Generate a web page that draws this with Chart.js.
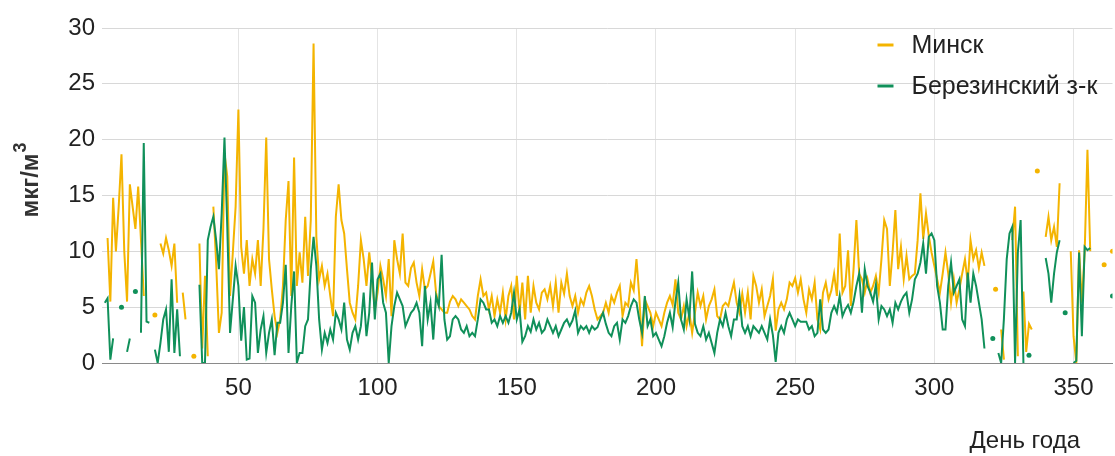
<!DOCTYPE html>
<html lang="ru">
<head>
<meta charset="utf-8">
<title>Минск / Березинский з-к</title>
<script src="https://cdn.jsdelivr.net/npm/chart.js@4.4.1/dist/chart.umd.min.js"></script>
<style>
  html, body { margin: 0; padding: 0; background: #fff; }
  #wrap { width: 1115px; height: 456px; position: relative; }
</style>
</head>
<body>
<div id="wrap"><canvas id="pmChart"></canvas></div>
<script>
// series names, axis titles, tick values
const seriesNames = ['Минск', 'Березинский з-к'];
const yTitle = 'мкг/м';
const yTitleSup = '3';
const xTitle = 'День года';
const xTicks = [50, 100, 150, 200, 250, 300, 350];
const yTicks = [0, 5, 10, 15, 20, 25, 30];

// daily values, day 1..364 (null = no data)
const minsk = [
  null, null, 11.2, 5.5, 14.8, 10, 14, 18.7, 10, 5.5,
  16, 14, 12, 15.8, 11, 6, null, null, null, 4.3,
  null, 10.7, 9.8, 11.2, 10.1, 8.7, 10.7, 5.4, null, 6.3,
  3.9, null, null, 0.6, null, 10.7, 1.3, 7.8, 0.6, null,
  14, 9, 2.7, 4.5, 18.8, 16.7, 6, 9.9, 14, 22.7,
  10.4, 8, 11, 6.9, 9.3, 8, 11, 6.9, 12, 20.2,
  9.3, 6.6, 4.2, 2.7, 3.9, 6.9, 12.8, 16.3, 6, 18.4,
  6.9, 9.9, 7.2, 13.1, 7.8, 12.8, 28.6, 11.3, 7.5, 8.7,
  6.9, 8, 6, 4.2, 13.1, 16, 12.8, 11.6, 8.4, 5.4,
  4.5, 3.9, 6.9, 11, 9.3, 6.9, 9.9, 7.5, 4.8, 6.3,
  8.7, 7.5, 6, 9.3, 4.2, 11, 9.3, 8, 11.6, 7.2,
  6.9, 8.5, 9, 7.2, 6, 8.4, 6.6, 6.9, 8, 9.1,
  6.3, 5.1, 4.8, 4.5, 4.5, 5.5, 6, 5.7, 5.1, 5.7,
  5.4, 5.1, 4.8, 4.2, 3.9, 6, 7.5, 6, 6.3, 4.8,
  6, 4.2, 5.7, 4.5, 6.3, 3.9, 6, 6.9, 3.9, 7.8,
  4.5, 7.2, 3.9, 7.8, 4.5, 6.9, 5.4, 4.8, 6.3, 6.6,
  5.7, 6.9, 5.1, 7.2, 4.5, 7.2, 6.2, 8, 6, 5.1,
  6, 4.5, 5.7, 5.2, 6.3, 6.9, 6, 4.8, 3.9, 4.2,
  4.5, 5.4, 4.5, 6, 5.4, 6.3, 6.9, 4.2, 5.4, 5.1,
  7.2, 6.5, 9.3, 6, 1.5, 5.7, 5.1, 4.5, 3.3, 4.5,
  3.9, 3.3, 4.5, 5.4, 6, 5.2, 7.5, 4.5, 3.9, 5.1,
  3.3, 4.5, 2.7, 4.5, 6.3, 5.1, 6, 3.9, 5.1, 5.7,
  6.6, 4.2, 3.9, 5.1, 5.4, 5.1, 6.2, 7.2, 5.4, 4.5,
  6.2, 4.5, 6.3, 3.9, 7.8, 6.9, 5.4, 6.6, 4.2, 5.1,
  6, 7.5, 2.9, 4.8, 5.4, 4.8, 5.7, 7.2, 6.9, 7.6,
  6.3, 7.5, 5.7, 4.5, 6.6, 5.7, 7.2, 3.9, 3, 6.3,
  7.2, 5.7, 6.5, 8, 6, 11.6, 6.3, 6.9, 10.1, 5.1,
  8.5, 12.8, 8, 7.5, 6.3, 7.5, 6.3, 6.9, 7.8, 6.3,
  9.3, 12.8, 12, 6.9, 9.9, 13.7, 8.4, 10.4, 7.5, 9.6,
  7.5, 7.8, 8, 11, 15.2, 11.1, 13.4, 11.4, 9.9, 8.7,
  7.5, 6.3, 8, 9.9, 8, 5.4, 7.5, 5.4, 6.6, 8,
  9.3, 7.2, 11, 9.3, 10.1, 8.5, 9.9, 8.7, null, null,
  null, 6.6, null, 3, 0.3, null, null, 11, 14, 0.6,
  null, 6.4, 1, 3.5, 3, null, 17.2, null, null, 11.3,
  13.1, 11, 12.2, 10.4, 16.1, null, null, null, 10, 2.4,
  0, 10.1, 5.4, 9.9, 19.1, 10, null, null, null, null,
  8.8, null, null, 10
];

const berezina = [
  null, 5.4, 5.8, 0.3, 2.2, null, null, 5, null, 1,
  2.2, null, 6.4, null, 2.7, 19.7, 3.7, 3.6, null, 1.2,
  0, 1.8, 3.9, 4.8, 1, 7.5, 0.9, 4.8, 0.6, null,
  null, null, null, null, null, 7, 0, 0, 11, 12.2,
  13.1, 11, 8.4, 13.4, 20.2, 12.2, 2.7, 5.7, 8.7, 6.9,
  2, 5, 0.3, 0.4, 6, 5.4, 0.9, 3, 4.2, 0.9,
  2.7, 3.9, 0.7, 3.6, 3.6, 5.4, 8.8, 0.9, 5.1, 8.2,
  0, 0.9, 0.9, 3.3, 3.9, 8.4, 11.3, 8.7, 3.9, 1.2,
  2.7, 1.8, 3, 2.1, 4.5, 3.9, 3, 5.4, 2.1, 1.2,
  2.7, 3.3, 2.1, 3.3, 6.3, 2.4, 4.5, 9, 3.9, 7.5,
  8, 5.4, 4.5, 0, 3.3, 5.1, 6.3, 5.7, 5.1, 3.3,
  3.9, 4.5, 4.8, 5.4, 4.5, 1.5, 6.9, 3.9, 5.4, 2.1,
  6, 5.1, 9.7, 3.9, 2.1, 2.4, 3.9, 4.2, 3.9, 3,
  2.7, 3.3, 2.4, 2.7, 2.4, 3.9, 5.7, 5.4, 4.8, 4.8,
  3.6, 3.9, 3.3, 4.2, 3.6, 4.2, 3.6, 4.5, 6.3, 3.9,
  4.8, 1.9, 2.4, 3.3, 2.8, 3.9, 3, 3.6, 2.7, 3,
  3.9, 3.3, 2.7, 3.3, 2.4, 3, 3.6, 3.9, 3.3, 3.8,
  4.7, 2.7, 3.3, 3, 3.3, 2.7, 3.3, 3, 3.2, 3.9,
  4.5, 3.5, 2.7, 2.4, 3.3, 3.6, 2.1, 3.9, 3.6, 4.2,
  5.1, 5.7, 5.4, 3.9, 2.7, 6, 3.3, 3.9, 2.4, 2.7,
  2.1, 1.5, 2.4, 3.6, 4.5, 3.2, 5.5, 7.2, 3.9, 3,
  5.7, 4, 8.2, 3.5, 2.7, 2.4, 3.3, 2.1, 2.7, 1.8,
  0.9, 2.7, 3.9, 3.3, 4.5, 3.3, 2.4, 3.9, 3.9, 6,
  3.3, 2.7, 3.3, 2.4, 3.3, 3, 2.7, 3.3, 2.7, 2.1,
  3.9, 2.5, 0.1, 2.7, 3.3, 2.7, 3.9, 4.5, 3.9, 3.3,
  3.9, 3.7, 3.7, 3.7, 3, 3.3, 2.4, 2.7, 5.7, 3,
  2.7, 3, 4.5, 5.1, 4.5, 6, 4.2, 4.8, 5.2, 4.5,
  5.5, 6.9, 8, 4.5, 8.4, 6.9, 6.3, 5.5, 7, 3.9,
  5.1, 4.8, 4.2, 4.8, 3.6, 5.4, 4.8, 5.5, 6, 6.3,
  4.5, 5.7, 7.5, 8, 9, 10.7, 8, 11.3, 11.6, 11,
  6.9, 5.4, 3, 3, 6.9, 9, 6.3, 6.9, 7.5, 3.9,
  3.3, 8.1, 5.4, 8, 6.9, 5.4, 3.9, 1.3, null, null,
  2.2, null, 0.9, 0, 4, 9.3, 11.6, 12.2, 0, 9.9,
  12.8, 0, null, 0.7, null, null, null, null, null, 9.4,
  8, 5.4, 8, 9.9, 11, null, 4.5, null, null, 0,
  0.2, 9.9, 2.4, 10.4, 10.1, 10.3, null, null, null, null,
  null, null, null, 6
];

const days = minsk.map((v, i) => i + 1);

const minskColor = '#f4b400';
const berezinaColor = '#10905a';
const textColor = '#222';
const fontFamily = '"Liberation Sans", Arial, sans-serif';

// a point with no neighbours is drawn as a dot, like in the original
function loneRadius(ctx) {
  const arr = ctx.dataset.data;
  const i = ctx.dataIndex;
  const prev = i > 0 ? arr[i - 1].y : null;
  const next = i < arr.length - 1 ? arr[i + 1].y : null;
  return (prev == null && next == null) ? 2.5 : 0;
}

// legend inside the plot + axis titles
const labelsPlugin = {
  id: 'labels',
  afterDraw(chart) {
    const ctx = chart.ctx;
    const area = chart.chartArea;
    ctx.save();

    ctx.font = '25px ' + fontFamily;
    ctx.textBaseline = 'middle';
    ctx.textAlign = 'left';
    const rows = [[seriesNames[0], minskColor, area.top + 17], [seriesNames[1], berezinaColor, area.top + 58]];
    rows.forEach(function(r) {
      ctx.strokeStyle = r[1];
      ctx.lineWidth = 3;
      ctx.beginPath();
      ctx.moveTo(area.right - 235, r[2]);
      ctx.lineTo(area.right - 219, r[2]);
      ctx.stroke();
      ctx.fillStyle = textColor;
      ctx.fillText(r[0], area.right - 201, r[2] + 1);
    });

    // y title, with raised "3"
    ctx.save();
    ctx.translate(38, 0);
    ctx.rotate(-Math.PI / 2);
    ctx.textBaseline = 'alphabetic';
    ctx.textAlign = 'left';
    ctx.fillStyle = '#333';
    ctx.font = 'bold 24px ' + fontFamily;
    const w = ctx.measureText(yTitle).width;
    ctx.font = 'bold 18px ' + fontFamily;
    const ws = ctx.measureText(yTitleSup).width;
    const start = -(180 + (w + ws + 1) / 2);
    ctx.font = 'bold 24px ' + fontFamily;
    ctx.fillText(yTitle, start, 0);
    ctx.font = 'bold 18px ' + fontFamily;
    ctx.fillText(yTitleSup, start + w + 1, -12);
    ctx.restore();

    // x title
    ctx.textAlign = 'right';
    ctx.font = '24px ' + fontFamily;
    ctx.fillStyle = textColor;
    ctx.fillText(xTitle, 1080, 441);

    ctx.restore();
  }
};

const ctxChart = document.getElementById('pmChart');
new Chart(ctxChart, {
  type: 'line',
  data: {
    datasets: [
      {
        label: seriesNames[1],
        data: days.map((d, i) => ({ x: d, y: berezina[i] })),
        borderColor: berezinaColor,
        backgroundColor: berezinaColor,
        borderWidth: 2,
        pointRadius: loneRadius,
        pointBorderWidth: 0,
        pointHoverRadius: 0,
        spanGaps: false,
        tension: 0
      },
      {
        label: seriesNames[0],
        data: days.map((d, i) => ({ x: d, y: minsk[i] })),
        borderColor: minskColor,
        backgroundColor: minskColor,
        borderWidth: 2,
        pointRadius: loneRadius,
        pointBorderWidth: 0,
        pointHoverRadius: 0,
        spanGaps: false,
        tension: 0
      }
    ]
  },
  options: {
    responsive: true,
    maintainAspectRatio: false,
    animation: false,
    layout: { padding: { top: 28, right: 0, bottom: 0, left: 0 } },
    plugins: {
      legend: { display: false },
      tooltip: { enabled: false }
    },
    scales: {
      x: {
        type: 'linear',
        min: 1,
        max: 364,
        afterBuildTicks: function(scale) {
          scale.ticks = xTicks.map(v => ({ value: v }));
        },
        afterFit: function(scale) { scale.height = 93; },
        grid: { color: '#e4e4e4', drawTicks: false },
        border: { display: true, color: '#8a8a8a', width: 1 },
        ticks: {
          padding: 11,
          maxRotation: 0,
          color: textColor,
          font: { family: fontFamily, size: 24 }
        }
      },
      y: {
        min: 0,
        max: 30,
        afterBuildTicks: function(scale) {
          scale.ticks = yTicks.map(v => ({ value: v }));
        },
        afterFit: function(scale) { scale.width = 102; },
        grid: {
          drawTicks: false,
          color: function(c) { return c.tick && c.tick.value === 0 ? '#8a8a8a' : '#d8d8d8'; }
        },
        border: { display: false },
        ticks: {
          padding: 7,
          color: textColor,
          font: { family: fontFamily, size: 24 }
        }
      }
    }
  },
  plugins: [labelsPlugin]
});
</script>
</body>
</html>
